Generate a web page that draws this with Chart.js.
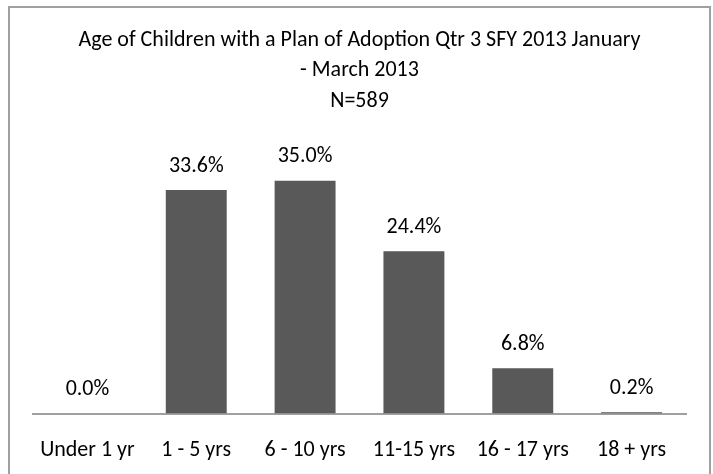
<!DOCTYPE html>
<html>
<head>
<meta charset="utf-8">
<script src="https://cdn.jsdelivr.net/npm/chart.js@4"></script>
<style>
  html, body { margin: 0; padding: 0; background: #fff; overflow: hidden; }
  #wrap { width: 713px; height: 474px; }
</style>
</head>
<body>
<div id="wrap"><canvas id="ageChart" width="713" height="474"></canvas></div>
<script>
// data
var ageGroups = ["Under 1 yr", "1 - 5 yrs", "6 - 10 yrs", "11-15 yrs", "16 - 17 yrs", "18 + yrs"];
var percents = [0.0, 33.6, 35.0, 24.4, 6.8, 0.2];
var titleLines = ["Age of Children with a Plan of Adoption Qtr 3 SFY 2013 January", "- March 2013", "N=589"];

var fontFam = "Carlito, 'Liberation Sans Narrow', 'Open Sans', sans-serif";

// outer frame like the Excel chart border
var frame = {
    id: "frame",
    beforeDraw: function (chart) {
        var ctx = chart.ctx;
        ctx.save();
        ctx.strokeStyle = "#a0a0a0";
        ctx.lineWidth = 2;
        ctx.strokeRect(9, 7, 701, 480);
        ctx.restore();
    }
};

// value labels above bars
var barLabels = {
    id: "barLabels",
    afterDatasetsDraw: function (chart) {
        var ctx = chart.ctx;
        var meta = chart.getDatasetMeta(0);
        ctx.save();
        ctx.font = "22px " + fontFam;
        ctx.fillStyle = "#000";
        ctx.textAlign = "center";
        ctx.textBaseline = "middle";
        meta.data.forEach(function (bar, i) {
            ctx.fillText(percents[i].toFixed(1) + "%", bar.x, bar.y - 24);
        });
        ctx.restore();
    }
};

new Chart("ageChart", {
    type: "bar",
    data: {
        labels: ageGroups,
        datasets: [{
            data: percents,
            backgroundColor: "#595959",
            barPercentage: 0.56,
            categoryPercentage: 1.0,
        }],
    },
    options: {
        responsive: false,
        animation: false,
        layout: {
            padding: { left: 33, right: 27, top: 0, bottom: 0 },
        },
        plugins: {
            legend: { display: false },
            tooltip: { enabled: false },
            title: {
                display: true,
                text: titleLines,
                color: "#000",
                font: { family: fontFam, size: 22, weight: "normal", lineHeight: 1.386 },
                padding: { top: 25, bottom: 31 },
            },
        },
        scales: {
            x: {
                grid: { display: false, drawTicks: false },
                border: { display: true, color: "#a0a0a0", width: 2 },
                ticks: {
                    color: "#000",
                    padding: 24,
                    font: { family: fontFam, size: 22 },
                },
                afterFit: function (scale) {
                    scale.height = 60.5;
                },
            },
            y: {
                display: false,
                min: 0,
                max: 40,
            },
        },
    },
    plugins: [frame, barLabels],
});
</script>
</body>
</html>
